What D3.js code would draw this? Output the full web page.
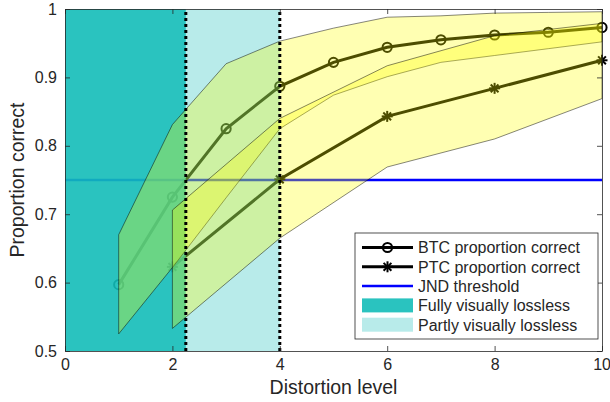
<!DOCTYPE html>
<html>
<head>
<meta charset="utf-8">
<script src="https://cdn.jsdelivr.net/npm/d3@7"></script>
<style>
  body { margin: 0; background: #fff; }
  text { font-family: "Liberation Sans", Arial, Helvetica, sans-serif; fill: #262626; }
</style>
</head>
<body>
<div id="chart"></div>
<script>
// distortion levels and proportion correct
const btcLevels = [1, 2, 3, 4, 5, 6, 7, 8, 9, 10];
const btcMean  = [0.597, 0.725, 0.825, 0.887, 0.922, 0.944, 0.955, 0.962, 0.966, 0.973];
const btcLower = [0.525, 0.622, 0.724, 0.825, 0.874, 0.901, 0.922, 0.932, 0.942, 0.952];
const btcUpper = [0.670, 0.831, 0.920, 0.953, 0.972, 0.988, 0.990, 0.994, 0.995, 0.996];

const ptcLevels = [2, 4, 6, 8, 10];
const ptcMean  = [0.623, 0.751, 0.843, 0.884, 0.925];
const ptcLower = [0.533, 0.665, 0.769, 0.810, 0.869];
const ptcUpper = [0.706, 0.840, 0.917, 0.961, 0.979];

const jndThreshold = 0.75;
const fullyLossless = [0, 2.25];
const partlyLossless = [2.25, 4];

const xTicks = [0, 2, 4, 6, 8, 10];
const yTicks = [0.5, 0.6, 0.7, 0.8, 0.9, 1];

const legendLabels = ["BTC proportion correct", "PTC proportion correct", "JND threshold",
  "Fully visually lossless", "Partly visually lossless"];

const width = 610, height = 402;
const margin = { top: 9, right: 8, bottom: 51, left: 65 };

const svg = d3.select("#chart").append("svg")
  .attr("width", width)
  .attr("height", height);

const x = d3.scaleLinear().domain([0, 10]).range([margin.left, width - margin.right]);
const y = d3.scaleLinear().domain([0.5, 1]).range([height - margin.bottom, margin.top]);

const teal = "rgb(19,189,184)";
const axisColor = "#262626";

const btc = btcLevels.map((d, i) => ({ x: d, m: btcMean[i], lo: btcLower[i], hi: btcUpper[i] }));
const ptc = ptcLevels.map((d, i) => ({ x: d, m: ptcMean[i], lo: ptcLower[i], hi: ptcUpper[i] }));

const line = d3.line().x(d => x(d.x)).y(d => y(d.m));
const band = d3.area().x(d => x(d.x)).y0(d => y(d.lo)).y1(d => y(d.hi));

// lines first, the shaded patches are laid over them (as in the original)
svg.append("line")
  .attr("x1", x(0)).attr("x2", x(10))
  .attr("y1", y(jndThreshold)).attr("y2", y(jndThreshold))
  .attr("stroke", "#0000ff").attr("stroke-width", 2.5);

svg.append("path").datum(btc)
  .attr("d", line).attr("fill", "none")
  .attr("stroke", "#000").attr("stroke-width", 3);
svg.append("path").datum(ptc)
  .attr("d", line).attr("fill", "none")
  .attr("stroke", "#000").attr("stroke-width", 3);

svg.selectAll("circle.btc").data(btc).enter().append("circle")
  .attr("class", "btc")
  .attr("cx", d => x(d.x)).attr("cy", d => y(d.m)).attr("r", 4.6)
  .attr("fill", "none").attr("stroke", "#000").attr("stroke-width", 2);

function star(g, cx, cy, r) {
  [0, 45, 90, 135].forEach(a => {
    const t = a * Math.PI / 180;
    g.append("line")
      .attr("x1", cx - r * Math.cos(t)).attr("y1", cy - r * Math.sin(t))
      .attr("x2", cx + r * Math.cos(t)).attr("y2", cy + r * Math.sin(t))
      .attr("stroke", "#000").attr("stroke-width", 2);
  });
}
const starG = svg.append("g");
ptc.forEach(d => star(starG, x(d.x), y(d.m), 5.5));

// visually lossless regions
svg.append("rect")
  .attr("x", x(fullyLossless[0])).attr("width", x(fullyLossless[1]) - x(fullyLossless[0]))
  .attr("y", y(1)).attr("height", y(0.5) - y(1))
  .attr("fill", teal).attr("fill-opacity", 0.9);
svg.append("rect")
  .attr("x", x(partlyLossless[0])).attr("width", x(partlyLossless[1]) - x(partlyLossless[0]))
  .attr("y", y(1)).attr("height", y(0.5) - y(1))
  .attr("fill", teal).attr("fill-opacity", 0.3);

// confidence bands
[btc, ptc].forEach(data => {
  svg.append("path").datum(data)
    .attr("d", band)
    .attr("fill", "#ffff00").attr("fill-opacity", 0.3)
    .attr("stroke", "#000").attr("stroke-width", 0.6).attr("stroke-opacity", 0.8);
});

// dotted region boundaries
[fullyLossless[1], partlyLossless[1]].forEach(v => {
  svg.append("line")
    .attr("x1", x(v)).attr("x2", x(v))
    .attr("y1", y(0.5)).attr("y2", y(1))
    .attr("stroke", "#000").attr("stroke-width", 3)
    .attr("stroke-dasharray", "3,3");
});

// axes box with inward ticks on all four sides
const axisG = svg.append("g");
axisG.append("g").attr("transform", `translate(0,${y(0.5)})`)
  .call(d3.axisBottom(x).tickValues(xTicks).tickSizeInner(-5).tickSizeOuter(0).tickPadding(8));
axisG.append("g").attr("transform", `translate(0,${y(1)})`)
  .call(d3.axisTop(x).tickValues(xTicks).tickSizeInner(-5).tickSizeOuter(0).tickFormat(""));
axisG.append("g").attr("transform", `translate(${x(0)},0)`)
  .call(d3.axisLeft(y).tickValues(yTicks).tickSizeInner(-5).tickSizeOuter(0).tickPadding(8)
    .tickFormat(d3.format("~g")));
axisG.append("g").attr("transform", `translate(${x(10)},0)`)
  .call(d3.axisRight(y).tickValues(yTicks).tickSizeInner(-5).tickSizeOuter(0).tickFormat(""));
axisG.selectAll(".domain").attr("stroke", axisColor).attr("stroke-width", 0.8);
axisG.selectAll(".tick line").attr("stroke", axisColor).attr("stroke-width", 0.8);
axisG.selectAll(".tick text")
  .attr("font-family", "Liberation Sans, Arial, sans-serif")
  .attr("font-size", 16).attr("fill", axisColor);
// keep the last x label inside the window
axisG.selectAll(".tick text").filter(d => d === 10).attr("text-anchor", "end").attr("dx", "0.53em");

svg.append("text")
  .attr("x", (x(0) + x(10)) / 2).attr("y", 394)
  .attr("text-anchor", "middle").attr("font-size", 19.5)
  .text("Distortion level");
svg.append("text")
  .attr("transform", `translate(24,${(y(0.5) + y(1)) / 2}) rotate(-90)`)
  .attr("text-anchor", "middle").attr("font-size", 19.5)
  .text("Proportion correct");

// legend
const lg = svg.append("g");
lg.append("rect")
  .attr("x", 355).attr("y", 233).attr("width", 243).attr("height", 106)
  .attr("fill", "#fff").attr("stroke", axisColor).attr("stroke-width", 0.8);
const rowY = i => 247.5 + i * 19.3;
const sx0 = 362, sx1 = 413, tx = 418;
legendLabels.forEach((label, i) => {
  const cy = rowY(i);
  if (i < 2) {
    lg.append("line").attr("x1", sx0).attr("x2", sx1).attr("y1", cy).attr("y2", cy)
      .attr("stroke", "#000").attr("stroke-width", 3);
    if (i === 0) {
      lg.append("circle").attr("cx", (sx0 + sx1) / 2).attr("cy", cy).attr("r", 4.6)
        .attr("fill", "none").attr("stroke", "#000").attr("stroke-width", 2);
    } else {
      star(lg, (sx0 + sx1) / 2, cy, 5.5);
    }
  } else if (i === 2) {
    lg.append("line").attr("x1", sx0).attr("x2", sx1).attr("y1", cy).attr("y2", cy)
      .attr("stroke", "#0000ff").attr("stroke-width", 2.5);
  } else {
    lg.append("rect").attr("x", sx0).attr("y", cy - 7).attr("width", sx1 - sx0).attr("height", 14)
      .attr("fill", teal).attr("fill-opacity", i === 3 ? 0.9 : 0.3);
  }
  lg.append("text").attr("x", tx).attr("y", cy + 5.8).attr("font-size", 16).text(label);
});
</script>
</body>
</html>
